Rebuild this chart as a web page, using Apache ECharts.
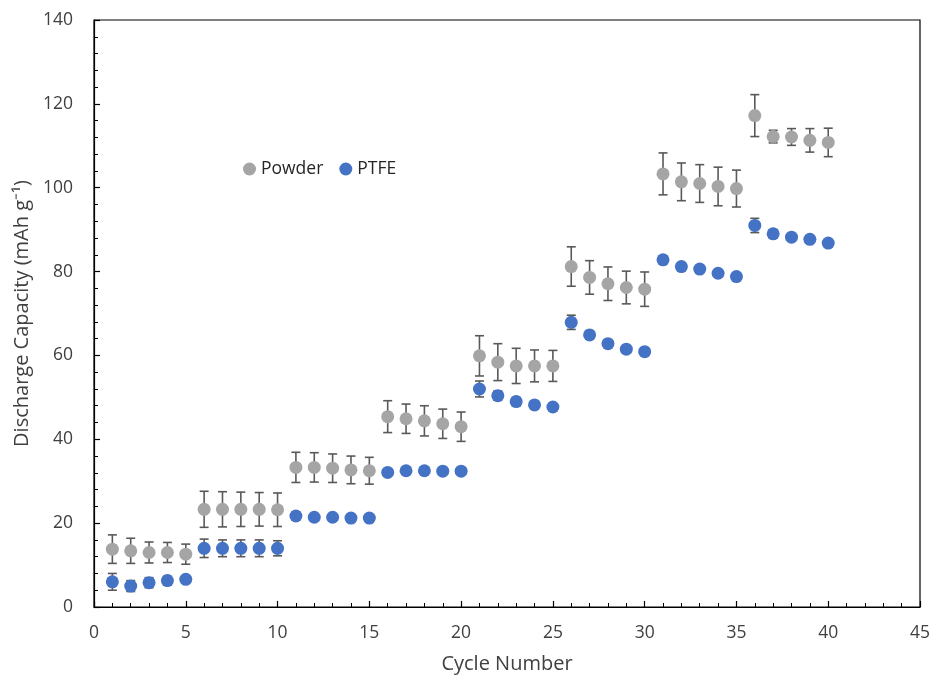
<!DOCTYPE html>
<html>
<head>
<meta charset="utf-8">
<script src="https://cdn.jsdelivr.net/npm/echarts@6/dist/echarts.min.js"></script>
<style>html,body{margin:0;padding:0;background:#fff}#c{width:933px;height:678px}</style>
</head>
<body>
<div id="c"></div>
<script>
var cycles = [1,2,3,4,5,6,7,8,9,10,11,12,13,14,15,16,17,18,19,20,21,22,23,24,25,26,27,28,29,30,31,32,33,34,35,36,37,38,39,40];
var powder = [13.8,13.4,13.0,13.0,12.6, 23.3,23.3,23.3,23.3,23.2, 33.3,33.3,33.1,32.7,32.5, 45.4,44.9,44.4,43.7,43.0, 59.9,58.4,57.5,57.5,57.5, 81.2,78.6,77.1,76.2,75.8, 103.3,101.4,101.0,100.3,99.8, 117.2,112.2,112.1,111.3,110.8];
var powderErr = [3.4,3.0,2.5,2.4,2.4, 4.3,4.2,4.1,4.0,4.0, 3.6,3.5,3.4,3.3,3.2, 3.8,3.5,3.6,3.5,3.5, 4.8,4.4,4.2,3.8,3.7, 4.7,4.0,4.0,3.9,4.1, 5.0,4.5,4.5,4.6,4.4, 5.0,1.5,2.0,2.8,3.4];
var ptfe = [6.0,5.0,5.8,6.3,6.6, 14.0,14.0,14.0,14.0,14.0, 21.7,21.4,21.4,21.2,21.2, 32.1,32.5,32.5,32.4,32.4, 52.0,50.4,49.0,48.2,47.7, 67.9,64.9,62.8,61.5,60.9, 82.8,81.2,80.6,79.6,78.8, 91.0,89.0,88.2,87.7,86.8];
var ptfeErr = [2.0,1.3,1.2,1.0,0.6, 2.2,2.0,2.0,2.0,1.8, 1.0,0.8,0.7,0.6,0.6, 0.5,0.5,0.5,0.5,0.5, 1.9,1.1,1.0,0.8,0.7, 1.7,1.0,0.8,0.6,0.6, 0.9,0.7,0.7,0.6,0.6, 1.7,1.0,0.8,0.6,0.6];

var FONT = 'Open Sans';
function pts(vals){ return cycles.map(function(c,i){ return [c, vals[i]]; }); }
function errData(vals, errs){ return cycles.map(function(c,i){ return [c, vals[i]-errs[i], vals[i]+errs[i]]; }); }
function errRender(params, api){
  var x = api.value(0);
  var lo = api.coord([x, api.value(1)]);
  var hi = api.coord([x, api.value(2)]);
  var cap = 4.5;
  var st = {stroke:'#595959', lineWidth:1.6};
  return {type:'group', children:[
    {type:'line', shape:{x1:lo[0], y1:lo[1], x2:hi[0], y2:hi[1]}, style:st},
    {type:'line', shape:{x1:lo[0]-cap, y1:lo[1], x2:lo[0]+cap, y2:lo[1]}, style:st},
    {type:'line', shape:{x1:hi[0]-cap, y1:hi[1], x2:hi[0]+cap, y2:hi[1]}, style:st}
  ]};
}
var chart = echarts.init(document.getElementById('c'), null, {renderer:'canvas'});
chart.setOption({
  animation:false,
  textStyle:{fontFamily:FONT},
  grid:{left:94, right:13, top:20, bottom:71, containLabel:false, outerBoundsMode:'none', show:true, borderColor:'#000', borderWidth:1.2, backgroundColor:'transparent'},
  legend:{
    left:238, top:155, itemWidth:13, itemHeight:13, itemGap:16,
    textStyle:{fontFamily:FONT, fontSize:17.5, color:'#262626'},
    data:[{name:'Powder', icon:'circle'},{name:'PTFE', icon:'circle'}]
  },
  xAxis:{
    type:'value', min:0, max:45, interval:5,
    name:'Cycle Number', nameLocation:'middle', nameGap:47,
    nameTextStyle:{fontFamily:FONT, fontSize:20, color:'#404040'},
    axisLine:{lineStyle:{color:'#000', width:1.2}},
    axisTick:{inside:true, length:6, lineStyle:{color:'#000', width:1.2}},
    minorTick:{show:true, splitNumber:5, length:4, lineStyle:{color:'#000', width:1}},
    axisLabel:{fontFamily:FONT, fontSize:17.5, color:'#404040', margin:17},
    splitLine:{show:false}
  },
  yAxis:{
    type:'value', min:0, max:140, interval:20,
    name:'Discharge Capacity (mAh g⁻¹)', nameLocation:'middle', nameGap:61,
    nameTextStyle:{fontFamily:FONT, fontSize:20, color:'#404040'},
    axisLine:{show:true, lineStyle:{color:'#000', width:1.2}},
    axisTick:{show:true, inside:true, length:6, lineStyle:{color:'#000', width:1.2}},
    minorTick:{show:true, splitNumber:5, length:4, lineStyle:{color:'#000', width:1}},
    axisLabel:{fontFamily:FONT, fontSize:17.5, color:'#404040', margin:21},
    splitLine:{show:false}
  },
  series:[
    {name:'PowderErr', type:'custom', renderItem:errRender, data:errData(powder, powderErr), encode:{x:0, y:[1,2]}, z:2, silent:true},
    {name:'Powder', type:'scatter', data:pts(powder), symbol:'circle', symbolSize:13, itemStyle:{color:'#A5A5A5', opacity:1}, z:3},
    {name:'PTFEErr', type:'custom', renderItem:errRender, data:errData(ptfe, ptfeErr), encode:{x:0, y:[1,2]}, z:4, silent:true},
    {name:'PTFE', type:'scatter', data:pts(ptfe), symbol:'circle', symbolSize:13, itemStyle:{color:'#4472C4', opacity:1}, z:5}
  ]
});
</script>
</body>
</html>
